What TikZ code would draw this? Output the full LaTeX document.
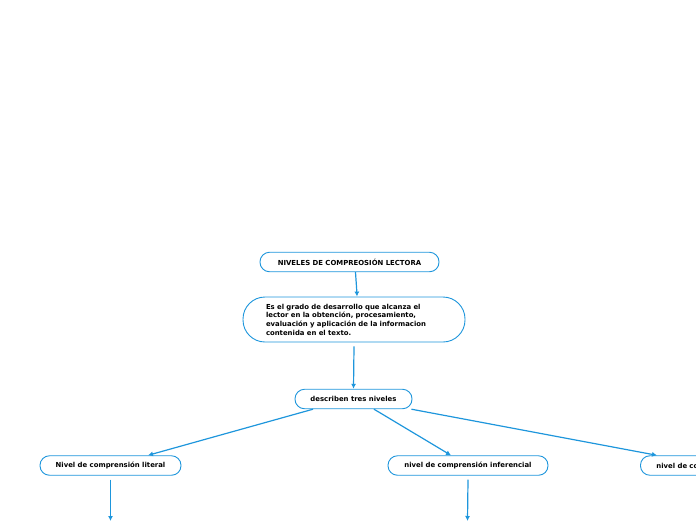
\documentclass[tikz,border=0pt]{standalone}
\usepackage{fontspec}
\setmainfont{DejaVu Sans}
\usepackage{tikz}
\usetikzlibrary{positioning,arrows.meta,calc}
\usepackage{xcolor}
\definecolor{mapblue}{HTML}{1E96DC}

\begin{document}
\begin{tikzpicture}[x=1pt, y=-1pt,
    every node/.style={font=\fontsize{6.9}{8.7}\selectfont\bfseries, text=black},
    pill/.style={draw=mapblue, line width=0.9pt, fill=white, rounded corners=9.5pt, minimum height=19.5pt, inner sep=0pt},
    link/.style={draw=mapblue, line width=1.2pt, -{Latex[length=5pt,width=5pt]}}]
    \useasboundingbox (0, 0) rectangle (696, 520);
    \clip (0, 0) rectangle (696, 520);

    % Title block
    \node[pill, minimum width=179pt] (title) at (349.5, 262) {NIVELES DE COMPREOSIÓN LECTORA};

    % Definition block
    \node[pill, rounded corners=22pt, minimum width=222pt, minimum height=45pt, text width=176pt, align=left] (desc) at (354, 319.5)
        {Es el grado de desarrollo que alcanza el\\lector en la obtención, procesamiento,\\evaluación y aplicación de la informacion\\contenida en el texto.};

    % Three levels
    \node[pill, minimum width=117pt] (niveles) at (353.5, 399) {describen tres niveles};

    \node[pill, minimum width=141pt] (literal) at (110.5, 465.5) {Nivel de comprensión literal};
    \node[pill, minimum width=160pt] (inferencial) at (468, 465.5) {nivel de comprensión inferencial};
    \node[pill, minimum width=160pt, text width=128pt, align=left, anchor=west] (critico) at (640, 465.5) {nivel de co};

    % Loose ends below the picture
    \coordinate (literalEnd) at (110.5, 521);
    \coordinate (inferencialEnd) at (467.5, 521);

    % Connectors
    \draw[link] ([xshift=6pt]title.south) .. controls ([xshift=7pt, yshift=-10pt]title.south) .. ([xshift=3pt]desc.north);
    \draw[link] ([yshift=-4pt]desc.south) -- (niveles.north);
    \draw[link] ([xshift=-40.5pt]niveles.south) -- ([xshift=37.5pt]literal.north);
    \draw[link] ([xshift=20.5pt]niveles.south) -- ([xshift=-17pt]inferencial.north);
    \draw[link] ([xshift=-1pt]niveles.south east) -- ([xshift=17pt]critico.north west);
    \draw[link] ([yshift=-4pt]literal.south) -- (literalEnd);
    \draw[link] ([yshift=-4pt]inferencial.south) -- (inferencialEnd);
\end{tikzpicture}
\end{document}
